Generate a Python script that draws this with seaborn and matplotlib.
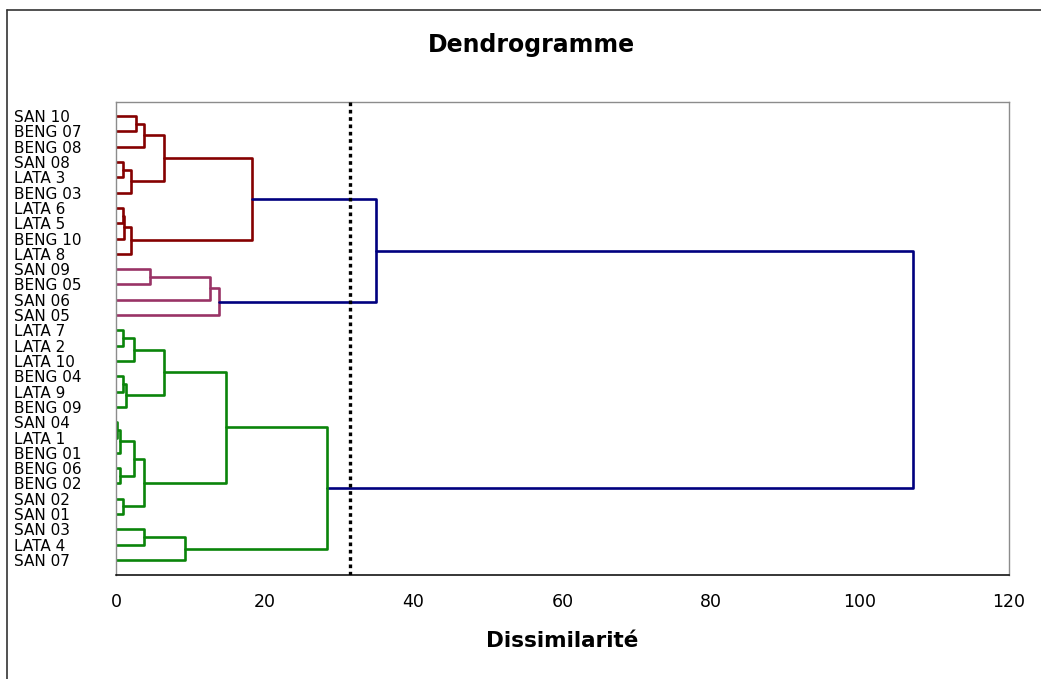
import numpy as np
import pandas as pd
import seaborn as sns
import matplotlib.pyplot as plt
from matplotlib.lines import Line2D

# leaves, top to bottom as they appear in the dendrogram
leaves = ["SAN 10", "BENG 07", "BENG 08", "SAN 08", "LATA 3", "BENG 03",
          "LATA 6", "LATA 5", "BENG 10", "LATA 8", "SAN 09", "BENG 05",
          "SAN 06", "SAN 05", "LATA 7", "LATA 2", "LATA 10", "BENG 04",
          "LATA 9", "BENG 09", "SAN 04", "LATA 1", "BENG 01", "BENG 06",
          "BENG 02", "SAN 02", "SAN 01", "SAN 03", "LATA 4", "SAN 07"]

# agglomeration steps, step i creates node "c<i>"
merge_left = ["SAN 10", "c0", "SAN 08", "c2", "c1", "LATA 6", "c5", "c6", "c4",
              "SAN 09", "c9", "c10", "c8",
              "LATA 7", "c13", "BENG 04", "c15", "c14", "SAN 04", "c18",
              "BENG 06", "c19", "SAN 02", "c21", "c17", "SAN 03", "c25",
              "c24", "c12"]
merge_right = ["BENG 07", "BENG 08", "LATA 3", "BENG 03", "c3", "LATA 5",
               "BENG 10", "LATA 8", "c7",
               "BENG 05", "SAN 06", "SAN 05", "c11",
               "LATA 2", "LATA 10", "LATA 9", "BENG 09", "c16", "LATA 1",
               "BENG 01", "BENG 02", "c20", "SAN 01", "c22", "c23", "LATA 4",
               "SAN 07", "c26", "c27"]
merge_height = [2.7, 3.8, 1.0, 2.0, 6.4, 0.9, 1.1, 2.0, 18.3,
                4.6, 12.6, 13.9, 35.0,
                1.0, 2.4, 1.0, 1.35, 6.4, 0.2, 0.55, 0.6, 2.4, 1.0, 3.8,
                14.8, 3.8, 9.3, 28.4, 107.2]

cut = 31.4  # troncature (pointillés)

cluster_colors = ["#850000", "#993366", "#0a840a"]
top_color = "#00007f"

# position of every node
ypos = {name: i for i, name in enumerate(leaves)}
hpos = {name: 0.0 for name in leaves}
children = {}
for i, (a, b, h) in enumerate(zip(merge_left, merge_right, merge_height)):
    node = "c%d" % i
    ypos[node] = (ypos[a] + ypos[b]) / 2
    hpos[node] = h
    children[node] = (a, b)

# colour each link by the cluster it falls into below the cut
link_group = {}
n_clusters = 0


def paint(node, group):
    global n_clusters
    if node not in children:
        return
    if hpos[node] >= cut:
        link_group[node] = "top"
    else:
        if group == "top":
            group = "g%d" % n_clusters
            n_clusters += 1
        link_group[node] = group
    for ch in children[node]:
        paint(ch, link_group[node])


paint("c%d" % (len(merge_height) - 1), "top")

rows = []
for i, (a, b, h) in enumerate(zip(merge_left, merge_right, merge_height)):
    node = "c%d" % i
    pts = [(hpos[a], ypos[a]), (h, ypos[a]), (h, ypos[b]), (hpos[b], ypos[b])]
    for k, (x, y) in enumerate(pts):
        rows.append({"link": node, "order": k, "x": x, "y": y,
                     "group": link_group[node]})
df = pd.DataFrame(rows)

palette = {"g%d" % k: c for k, c in enumerate(cluster_colors)}
palette["top"] = top_color

sns.set_style("white")
plt.rcParams["font.family"] = ["DejaVu Sans"]
plt.rcParams["text.color"] = "black"
plt.rcParams["xtick.color"] = "black"
plt.rcParams["ytick.color"] = "black"
plt.rcParams["axes.labelcolor"] = "black"

fig = plt.figure(figsize=(10.41, 6.79), dpi=100)
ax = fig.add_axes([116 / 1041, 1 - 575 / 679, (1008.7 - 116) / 1041, (575 - 102) / 679])

sns.lineplot(data=df, x="x", y="y", hue="group", units="link", estimator=None,
             sort=False, palette=palette, linewidth=1.9, legend=False, ax=ax)

ax.axvline(cut, color="black", lw=2.4, ls=(0, (1.1, 1.1)), zorder=5)

ax.set_xlim(0, 120)
ax.set_ylim(29.98, -0.92)
ax.set_xticks(np.arange(0, 121, 20))
ax.set_yticks(np.arange(len(leaves)))
ax.set_yticklabels(leaves, ha="left", fontsize=11)
ax.tick_params(axis="y", length=0, pad=73.5, labelcolor="black")
ax.tick_params(axis="x", direction="inout", length=8, width=1, pad=9,
               labelsize=12.5, color="black", labelcolor="black")
ax.set_xlabel("")
ax.set_ylabel("")

for side in ["top", "right", "left"]:
    ax.spines[side].set_color("#8c8c8c")
    ax.spines[side].set_linewidth(1.0)
ax.spines["bottom"].set_color("black")
ax.spines["bottom"].set_linewidth(1.1)

fig.text(531 / 1041, 1 - 52 / 679, "Dendrogramme", ha="center", va="baseline",
         fontsize=17, fontweight="bold", color="black")
fig.text(562 / 1041, 1 - 647 / 679, "Dissimilarité", ha="center", va="baseline",
         fontsize=15.5, fontweight="bold", color="black")

# cadre extérieur
fig.add_artist(Line2D([7 / 1041, 1.0], [1 - 10 / 679, 1 - 10 / 679],
                      transform=fig.transFigure, color="#333333", lw=1.2))
fig.add_artist(Line2D([7 / 1041, 7 / 1041], [0.0, 1 - 10 / 679],
                      transform=fig.transFigure, color="#333333", lw=1.2))

fig.savefig("out.png", dpi=100, facecolor="white")
